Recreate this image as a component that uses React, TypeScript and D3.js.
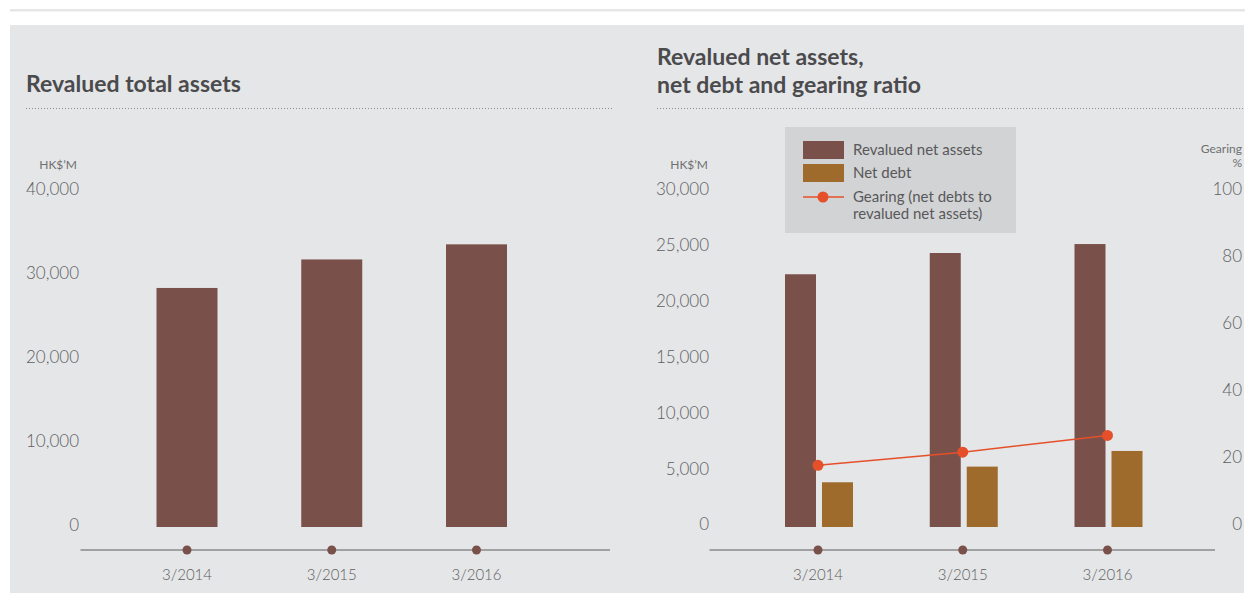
import React from "react";
import * as d3 from "d3";

const categories = ["3/2014", "3/2015", "3/2016"];
const totalAssets = [28500, 31900, 33700];
const netAssets = [22600, 24500, 25300];
const netDebt = [4000, 5400, 6800];
const gearing = [18.4, 22.3, 27.3];
const leftTicks = [0, 10000, 20000, 30000, 40000];
const rightTicks = [0, 5000, 10000, 15000, 20000, 25000, 30000];
const gearingTicks = [0, 20, 40, 60, 80, 100];

const FONT = "Lato, 'Open Sans', sans-serif";
const C_BAR = "#7a504b";
const C_DEBT = "#9e6b2d";
const C_LINE = "#e5502a";
const C_TEXT = "#5e5e60";
const C_SMALL = "#6f6f71";
const C_TITLE = "#4b4b4d";
const TICK_W = 300;

export default function App() {
  const fmt = d3.format(",");
  const yL = d3.scaleLinear().domain([0, 40000]).range([527, 191.5]);
  const xL = d3.scalePoint<string>().domain(categories).range([187, 476.5]);
  const yR = d3.scaleLinear().domain([0, 30000]).range([527, 191.5]);
  const yG = d3.scaleLinear().domain([0, 100]).range([527, 191.5]);
  const xR = d3.scalePoint<string>().domain(categories).range([818, 1107.5]);
  const sub = d3.scaleBand<string>().domain(["net", "debt"]).range([-33, 35]).paddingInner(0.162);
  const barW = 61;
  const line = d3
    .line<number>()
    .x((_, i) => xR(categories[i]) as number)
    .y((d) => yG(d));

  return (
    <div style={{ position: "absolute", left: 0, top: 0 }}>
      <svg width={1245} height={595} style={{ display: "block", fontFamily: FONT }}>
        <rect x={0} y={0} width={1245} height={595} fill="#ffffff" />
        <rect x={10} y={9} width={1235} height={2.5} fill="#e6e6e6" />
        <rect x={10} y={25} width={1234} height={568} fill="#e5e6e8" />

        {/* Left chart */}
        <text x={26} y={92} fontSize={23} fontWeight={700} fill={C_TITLE}>
          Revalued total assets
        </text>
        <line x1={26} x2={612} y1={108.5} y2={108.5} stroke="#8f8f8f" strokeWidth={1} strokeDasharray="1,2" />
        <text x={77} y={165} dy="0.35em" fontSize={12} fill={C_SMALL} textAnchor="end">
          HK$’M
        </text>
        {leftTicks.map((t) => (
          <text key={t} x={79} y={yL(t) - 2} dy="0.35em" fontSize={17} fontWeight={TICK_W} fill={C_TEXT} textAnchor="end">
            {fmt(t)}
          </text>
        ))}
        {categories.map((c, i) => (
          <rect
            key={c}
            x={(xL(c) as number) - barW / 2}
            y={yL(totalAssets[i])}
            width={barW}
            height={yL(0) - yL(totalAssets[i])}
            fill={C_BAR}
          />
        ))}
        <line x1={80.5} x2={610} y1={550} y2={550} stroke="#8a8a8a" strokeWidth={1.5} />
        {categories.map((c) => (
          <g key={c}>
            <circle cx={xL(c) as number} cy={550} r={4.5} fill={C_BAR} />
            <text x={xL(c) as number} y={575} dy="0.35em" fontSize={15} fontWeight={TICK_W} fill={C_TEXT} textAnchor="middle">
              {c}
            </text>
          </g>
        ))}

        {/* Right chart */}
        <text x={657} y={65} fontSize={23} fontWeight={700} fill={C_TITLE}>
          Revalued net assets,
        </text>
        <text x={657} y={93} fontSize={23} fontWeight={700} fill={C_TITLE}>
          net debt and gearing ratio
        </text>
        <line x1={657} x2={1244} y1={108.5} y2={108.5} stroke="#8f8f8f" strokeWidth={1} strokeDasharray="1,2" />
        <text x={708} y={165} dy="0.35em" fontSize={12} fill={C_SMALL} textAnchor="end">
          HK$’M
        </text>
        <text x={1242} y={149} dy="0.35em" fontSize={12} fill={C_SMALL} textAnchor="end">
          Gearing
        </text>
        <text x={1242} y={163} dy="0.35em" fontSize={12} fill={C_SMALL} textAnchor="end">
          %
        </text>
        {rightTicks.map((t) => (
          <text key={t} x={709} y={yR(t) - 2.5} dy="0.35em" fontSize={17} fontWeight={TICK_W} fill={C_TEXT} textAnchor="end">
            {fmt(t)}
          </text>
        ))}
        {gearingTicks.map((t) => (
          <text key={t} x={1242} y={yG(t) - 2.5} dy="0.35em" fontSize={17} fontWeight={TICK_W} fill={C_TEXT} textAnchor="end">
            {t}
          </text>
        ))}

        {/* Legend */}
        <rect x={785} y={127} width={231} height={106} fill="#d2d3d5" />
        <rect x={803} y={141} width={41} height={18} fill={C_BAR} />
        <rect x={803} y={164} width={41} height={18} fill={C_DEBT} />
        <line x1={803} x2={844} y1={197} y2={197} stroke={C_LINE} strokeWidth={1.5} />
        <circle cx={823} cy={197} r={5.5} fill={C_LINE} />
        <text x={853} y={150} dy="0.35em" fontSize={15} fill="#58585a">Revalued net assets</text>
        <text x={853} y={173} dy="0.35em" fontSize={15} fill="#58585a">Net debt</text>
        <text x={853} y={197} dy="0.35em" fontSize={15} fill="#58585a">Gearing (net debts to</text>
        <text x={853} y={214} dy="0.35em" fontSize={15} fill="#58585a">revalued net assets)</text>

        {categories.map((c, i) => (
          <g key={c}>
            <rect
              x={(xR(c) as number) + (sub("net") as number)}
              y={yR(netAssets[i])}
              width={sub.bandwidth()}
              height={yR(0) - yR(netAssets[i])}
              fill={C_BAR}
            />
            <rect
              x={(xR(c) as number) + (sub("debt") as number)}
              y={yR(netDebt[i])}
              width={sub.bandwidth()}
              height={yR(0) - yR(netDebt[i])}
              fill={C_DEBT}
            />
          </g>
        ))}
        <path d={line(gearing) || ""} fill="none" stroke={C_LINE} strokeWidth={1.5} />
        {categories.map((c, i) => (
          <circle key={c} cx={xR(c) as number} cy={yG(gearing[i])} r={5.5} fill={C_LINE} />
        ))}

        <line x1={709.5} x2={1215} y1={550} y2={550} stroke="#8a8a8a" strokeWidth={1.5} />
        {categories.map((c) => (
          <g key={c}>
            <circle cx={xR(c) as number} cy={550} r={4.5} fill={C_BAR} />
            <text x={xR(c) as number} y={575} dy="0.35em" fontSize={15} fontWeight={TICK_W} fill={C_TEXT} textAnchor="middle">
              {c}
            </text>
          </g>
        ))}
      </svg>
    </div>
  );
}
